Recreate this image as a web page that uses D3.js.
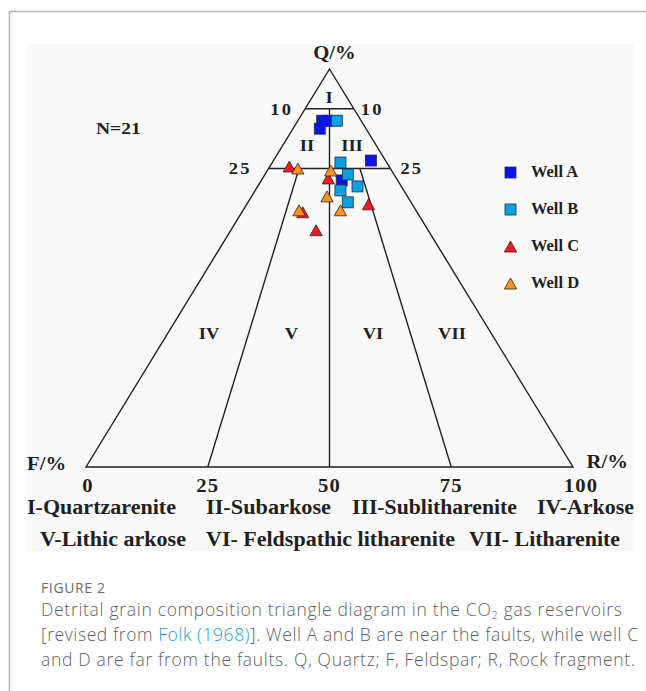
<!DOCTYPE html>
<html>
<head>
<meta charset="utf-8">
<script src="https://cdn.jsdelivr.net/npm/d3@7"></script>
<style>
  body { margin: 0; background: #fff; }
  svg { display: block; }
</style>
</head>
<body>
<svg id="chart" width="646" height="691"></svg>
<script>
// Detrital composition of sandstone samples, [Q, F, R] in percent
const wellNames = ["Well A", "Well B", "Well C", "Well D"];
const wellA = [[87, 8, 5], [85, 9.5, 5.5], [87, 7, 6], [77, 3, 20], [72, 11.5, 16.5]];
const wellB = [[87, 5, 8], [76.5, 9.5, 14], [73.5, 9.5, 17], [70.5, 9, 20.5], [69.5, 13, 17.5], [66.5, 13, 20.5]];
const wellC = [[75.5, 20.5, 4], [72.5, 14, 13.5], [66, 9, 25], [64, 23.5, 12.5], [59.5, 23, 17.5]];
const wellD = [[75, 19, 6], [74.5, 12.5, 13], [68, 16.5, 15.5], [64.5, 24, 11.5], [64.5, 15.5, 20]];
const wellShapes = ["square", "square", "triangle", "triangle"];
const wellColors = ["#0a14f0", "#0aa0e4", "#ec1c24", "#f7941d"];

// Axis ticks and Folk (1968) field boundaries
const baseTicks = [0, 25, 50, 75, 100];
const qLevels = [90, 75];                   // horizontal boundaries (Q %)
const qTickLabels = ["10", "25"];           // labelled as 100 - Q
const ratioRays = [[25, 75], [50, 90], [75, 75]]; // [R/(F+R) %, Q where ray starts]
const fieldLabels = ["I", "II", "III", "IV", "V", "VI", "VII"];
const classRow1 = ["I-Quartzarenite", "II-Subarkose", "III-Sublitharenite", "IV-Arkose"];
const classRow2 = ["V-Lithic arkose", "VI- Feldspathic litharenite", "VII- Litharenite"];
const sampleCount = "N=21";

const svg = d3.select("#chart");
const serif = "'Liberation Serif', 'Times New Roman', serif";
const ink = "#231f20";
const stretch = 1.09;   // figure lettering is set slightly wide

// page frame
svg.append("path").attr("d", "M9.5,691 V11.5 H646")
  .attr("fill", "none").attr("stroke", "#b4b4b4").attr("stroke-width", 1.5);
// figure panel
svg.append("rect").attr("x", 27).attr("y", 44).attr("width", 607).attr("height", 507)
  .attr("fill", "#f9f9f9");

// ternary scales: Q along vertical, (R + Q/2) along the base
const xScale = d3.scaleLinear().domain([0, 100]).range([86, 573]);
const yScale = d3.scaleLinear().domain([0, 100]).range([467, 69]);
const px = (q, f, r) => [xScale(r + q / 2), yScale(q)];

const g = svg.append("g");
const line = d3.line();

// outer triangle
g.append("path")
  .attr("d", line([px(100, 0, 0), px(0, 100, 0), px(0, 0, 100)]) + "Z")
  .attr("fill", "none").attr("stroke", ink).attr("stroke-width", 1.4)
  .attr("stroke-linejoin", "miter");

// horizontal Q boundaries
qLevels.forEach(q => {
  g.append("path")
    .attr("d", line([px(q, 100 - q, 0), px(q, 0, 100 - q)]))
    .attr("fill", "none").attr("stroke", ink).attr("stroke-width", 1.4);
});

// F:R ratio rays from the Q pole
ratioRays.forEach(([ratio, qStart]) => {
  const rest = 100 - qStart;
  g.append("path")
    .attr("d", line([px(qStart, rest * (100 - ratio) / 100, rest * ratio / 100),
                     px(0, 100 - ratio, ratio)]))
    .attr("fill", "none").attr("stroke", ink).attr("stroke-width", 1.4);
});

const label = (x, y, txt, size, anchor = "middle", sx = stretch) =>
  svg.append("text").attr("transform", `translate(${x},${y}) scale(${sx},1)`).text(txt)
    .attr("font-family", serif).attr("font-weight", "bold")
    .attr("font-size", size).attr("fill", ink)
    .attr("text-anchor", anchor).attr("dominant-baseline", "central");

// pole labels
label(xScale(50) + 5, 52, "Q/%", 19);
label(27, 463, "F/%", 19, "start");
label(628, 461, "R/%", 19, "end");

// Q boundary labels on both sides
qLevels.forEach((q, i) => {
  const [xl, y] = px(q, 100 - q, 0);
  const [xr] = px(q, 0, 100 - q);
  label(xl - (q === 90 ? 12 : 17), y, qTickLabels[i], 17, "end").attr("letter-spacing", 2);
  label(xr + (q === 90 ? 7 : 10), y, qTickLabels[i], 17, "start").attr("letter-spacing", 2);
});

// base tick labels
baseTicks.forEach(t => label(xScale(t) + (t === 0 ? 2 : t === 100 ? 8 : 0), 485, t, 19).attr("letter-spacing", 1));

// field numerals
const fieldPos = [[329, 97], [307, 145], [352, 145], [209, 333], [291.5, 333], [373, 333], [452, 333]];
fieldLabels.forEach((t, i) => label(fieldPos[i][0], fieldPos[i][1], t, 17));

label(96, 128, sampleCount, 17, "start", 1.15);

// classification key, each entry fitted to its column span
const row1Span = [[27, 176], [206, 331], [352, 517], [537, 634]];
classRow1.forEach((t, i) => label(row1Span[i][0], 507, t, 20, "start", 1)
  .attr("textLength", row1Span[i][1] - row1Span[i][0]).attr("lengthAdjust", "spacingAndGlyphs"));
const row2Span = [[40, 186], [206, 455], [469, 620]];
classRow2.forEach((t, i) => label(row2Span[i][0], 539, t, 20, "start", 1)
  .attr("textLength", row2Span[i][1] - row2Span[i][0]).attr("lengthAdjust", "spacingAndGlyphs"));

// marker drawing
function marker(sel, shape, color, size) {
  if (shape === "square") {
    sel.append("rect").attr("x", -size / 2).attr("y", -size / 2)
      .attr("width", size).attr("height", size)
      .attr("fill", color).attr("stroke", "#2a2a3a").attr("stroke-width", 0.8);
  } else {
    const w = size * 1.12, h = size;
    sel.append("path").attr("d", `M0,${-h / 2}L${w / 2},${h / 2}L${-w / 2},${h / 2}Z`)
      .attr("fill", color).attr("stroke", "#3a2020").attr("stroke-width", 0.8)
      .attr("stroke-linejoin", "miter");
  }
}

[wellA, wellB, wellC, wellD].forEach((data, i) => {
  g.append("g").selectAll("g").data(data).join("g")
    .attr("transform", d => `translate(${px(d[0], d[1], d[2])})`)
    .each(function () { marker(d3.select(this), wellShapes[i], wellColors[i], 11); });
});

// legend
const legendY = d3.scalePoint().domain(wellNames).range([172.5, 283.5]);
wellNames.forEach((name, i) => {
  const item = svg.append("g").attr("transform", `translate(510.5,${legendY(name)})`);
  marker(item, wellShapes[i], wellColors[i], 11);
  label(531, legendY(name), name, 16, "start", 1.03);
});

// caption
const sans = "'Open Sans', 'Noto Sans', sans-serif";
svg.append("text").attr("x", 41).attr("y", 592.5).text("FIGURE 2")
  .attr("font-family", sans).attr("font-size", 14).attr("fill", "#6b6b6b")
  .attr("textLength", 64).attr("lengthAdjust", "spacing");
const cap = svg.append("g").attr("font-family", sans).attr("font-size", 17.5)
  .attr("fill", "#5f5f5f").attr("font-weight", 300);
const c1 = cap.append("text").attr("x", 41).attr("y", 616)
  .attr("textLength", 581).attr("lengthAdjust", "spacing");
c1.append("tspan").text("Detrital grain composition triangle diagram in the CO");
c1.append("tspan").text("2").attr("font-size", 11).attr("dy", 3);
c1.append("tspan").text(" gas reservoirs").attr("dy", -3);
const c2 = cap.append("text").attr("x", 41).attr("y", 641)
  .attr("textLength", 597).attr("lengthAdjust", "spacing");
c2.append("tspan").text("[revised from ");
c2.append("tspan").text("Folk (1968)").attr("fill", "#1aa3c4");
c2.append("tspan").text("]. Well A and B are near the faults, while well C");
cap.append("text").attr("x", 41).attr("y", 665.5)
  .attr("textLength", 594).attr("lengthAdjust", "spacing")
  .text("and D are far from the faults. Q, Quartz; F, Feldspar; R, Rock fragment.");
</script>
</body>
</html>
